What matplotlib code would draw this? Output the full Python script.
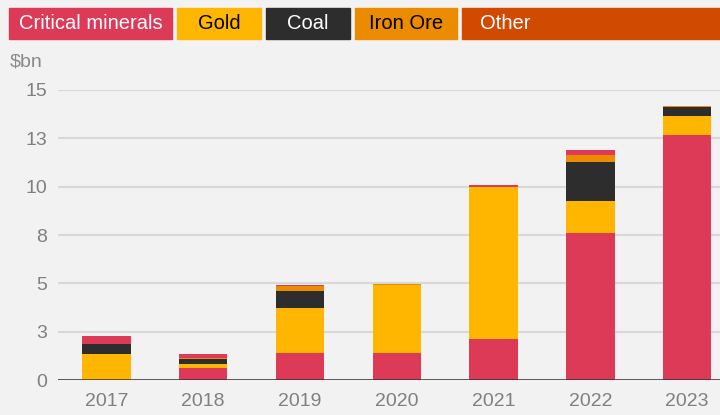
import matplotlib.pyplot as plt
from matplotlib.patches import Rectangle

plt.rcParams['font.family'] = ['Liberation Sans Narrow', 'Liberation Sans', 'DejaVu Sans']

# values in $bn (stacked bottom to top)
years = ['2017', '2018', '2019', '2020', '2021', '2022', '2023']
critical = [0.00, 0.62, 1.38, 1.41, 2.14, 7.61, 12.69]
gold = [1.33, 0.22, 2.33, 3.50, 7.85, 1.66, 0.98]
coal = [0.53, 0.24, 0.88, 0.00, 0.00, 1.98, 0.43]
iron_ore = [0.00, 0.07, 0.26, 0.05, 0.00, 0.40, 0.05]
other = [0.00, 0.00, 0.00, 0.00, 0.00, 0.00, 0.00]
critical_top = [0.41, 0.19, 0.08, 0.00, 0.10, 0.26, 0.00]

ytick_vals = [0, 2.5, 5, 7.5, 10, 12.5, 15]
ytick_labels = ['0', '3', '5', '8', '10', '13', '15']

legend_names = ['Critical minerals', 'Gold', 'Coal', 'Iron Ore', 'Other']

c_crit = '#dc3a57'
c_gold = '#ffb600'
c_coal = '#2d2d2d'
c_iron = '#eb8c00'
c_other = '#d04a02'
bg = '#f2f2f2'

fig = plt.figure(figsize=(7.2, 4.15), dpi=100, facecolor=bg)
ax = fig.add_axes([58 / 720, 35 / 415, 1 - 58 / 720, (380 - 90) / 415])
ax.set_facecolor(bg)

x = range(len(years))
series = [(critical, c_crit), (gold, c_gold), (coal, c_coal),
          (iron_ore, c_iron), (other, c_other), (critical_top, c_crit)]
bottom = [0.0] * len(years)
for vals, col in series:
    ax.bar(x, vals, width=0.5, bottom=bottom, color=col, zorder=3)
    bottom = [b + v for b, v in zip(bottom, vals)]

ax.set_xlim(-0.5, 6.34)
ax.set_ylim(0, 15)
ax.set_yticks(ytick_vals)
ax.set_yticklabels(ytick_labels)
ax.set_xticks(list(x))
ax.set_xticklabels(years)
ax.grid(axis='y', color='#d8d8d8', linewidth=1.5, zorder=0)
ax.set_axisbelow(True)
for s in ax.spines.values():
    s.set_visible(False)
ax.axhline(0, color='#333333', linewidth=1.8, zorder=4)
ax.tick_params(axis='both', length=0, labelsize=14, labelcolor='#808080')
ax.tick_params(axis='y', pad=8)
ax.tick_params(axis='x', pad=9)

fig.text(10 / 720, 1 - 62 / 415, '$bn', fontsize=14, color='#8a8a8a',
         va='center', ha='left')

# legend boxes across the top
boxes = [(9, 171.7, c_crit, 'white'), (177, 261, c_gold, 'black'),
         (265.7, 349.7, c_coal, 'white'), (355, 457, c_iron, 'black'),
         (461.7, 740, c_other, 'white')]
for name, (x0, x1, col, tc) in zip(legend_names, boxes):
    fig.patches.append(Rectangle((x0 / 720, 1 - 38.7 / 415), (x1 - x0) / 720, 30.7 / 415,
                                 transform=fig.transFigure, color=col, zorder=1))
    cx = (x0 + x1) / 2 if name != 'Other' else 480
    fig.text(cx / 720, 1 - 23.5 / 415, name, color=tc, fontsize=14.5,
             ha='center' if name != 'Other' else 'left', va='center', zorder=2)

fig.savefig('out.png', dpi=100, facecolor=bg)
